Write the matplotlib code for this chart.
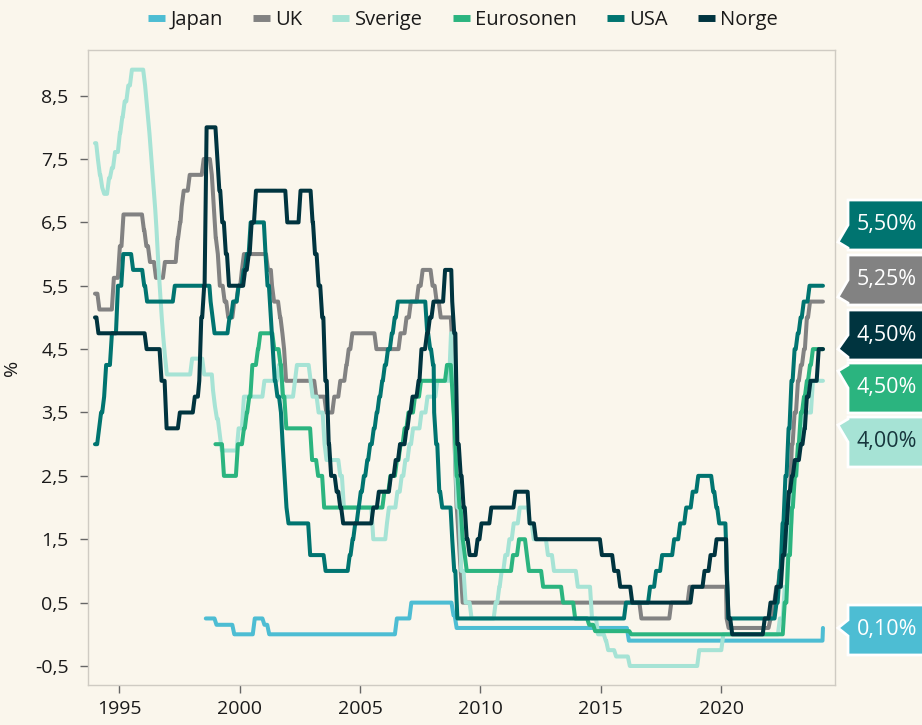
import matplotlib
matplotlib.use("Agg")
import matplotlib.pyplot as plt
from matplotlib.lines import Line2D
from matplotlib.patches import Polygon
from matplotlib.transforms import IdentityTransform

plt.rcParams['font.family'] = ['Open Sans', 'DejaVu Sans']

# --- data: (decimal year, policy rate %) change points -------------------
END = 2024.22

japan = [(1998.6, 0.25), (1998.96, 0.15), (1999.7, 0.0), (2000.55, 0.25),
         (2000.95, 0.15), (2001.15, 0.0), (2006.45, 0.25), (2007.05, 0.5),
         (2008.8, 0.3), (2008.93, 0.1), (2016.08, -0.1), (2024.2, 0.1)]

uk = [(1994.0, 5.375), (1994.1, 5.125), (1994.7, 5.625), (1994.95, 6.125),
      (1995.1, 6.625), (1995.95, 6.375), (1996.05, 6.125), (1996.2, 5.875),
      (1996.45, 5.625), (1996.82, 5.875), (1997.35, 6.25), (1997.45, 6.5),
      (1997.55, 6.75), (1997.6, 7.0), (1997.85, 7.25), (1998.43, 7.5),
      (1998.77, 7.25), (1998.85, 6.75), (1998.93, 6.25), (1999.02, 6.0),
      (1999.1, 5.5), (1999.3, 5.25), (1999.45, 5.0), (1999.7, 5.25),
      (1999.87, 5.5), (2000.03, 5.75), (2000.1, 6.0), (2001.1, 5.75),
      (2001.3, 5.5), (2001.35, 5.25), (2001.6, 5.0), (2001.7, 4.75),
      (2001.78, 4.5), (2001.85, 4.0), (2003.1, 3.75), (2003.52, 3.5),
      (2003.85, 3.75), (2004.1, 4.0), (2004.35, 4.25), (2004.45, 4.5),
      (2004.6, 4.75), (2005.6, 4.5), (2006.6, 4.75), (2006.85, 5.0),
      (2007.03, 5.25), (2007.35, 5.5), (2007.52, 5.75), (2007.93, 5.5),
      (2008.1, 5.25), (2008.27, 5.0), (2008.77, 4.5), (2008.85, 3.0),
      (2008.93, 2.0), (2009.02, 1.5), (2009.1, 1.0), (2009.18, 0.5),
      (2016.6, 0.25), (2017.84, 0.5), (2018.6, 0.75), (2020.2, 0.25),
      (2020.22, 0.1), (2021.96, 0.25), (2022.1, 0.5), (2022.2, 0.75),
      (2022.35, 1.0), (2022.46, 1.25), (2022.6, 1.75), (2022.72, 2.25),
      (2022.85, 3.0), (2022.96, 3.5), (2023.1, 4.0), (2023.22, 4.25),
      (2023.35, 4.5), (2023.47, 5.0), (2023.6, 5.25)]

sverige = [(1994.0, 7.75), (1994.05, 7.5), (1994.12, 7.25), (1994.22, 7.05),
           (1994.3, 6.95), (1994.5, 7.2), (1994.62, 7.36), (1994.75, 7.61),
           (1994.95, 7.91), (1995.05, 8.16), (1995.15, 8.41), (1995.3, 8.66),
           (1995.45, 8.91), (1996.0, 8.66), (1996.08, 8.41), (1996.14, 8.16),
           (1996.2, 7.91), (1996.26, 7.61), (1996.32, 7.31), (1996.38, 7.01),
           (1996.44, 6.71), (1996.5, 6.41), (1996.55, 6.06), (1996.6, 5.71),
           (1996.65, 5.36), (1996.71, 5.01), (1996.77, 4.71), (1996.83, 4.41),
           (1996.9, 4.10), (1997.95, 4.35), (1998.45, 4.10), (1998.85, 3.85),
           (1998.9, 3.60), (1998.98, 3.40), (1999.1, 3.15), (1999.18, 2.90),
           (1999.88, 3.25), (2000.1, 3.75), (2000.95, 4.0), (2001.55, 4.25),
           (2001.71, 3.75), (2002.22, 4.0), (2002.3, 4.25), (2002.87, 4.0),
           (2002.95, 3.75), (2003.2, 3.5), (2003.45, 3.0), (2003.53, 2.75),
           (2004.1, 2.5), (2004.25, 2.0), (2005.47, 1.5), (2006.05, 1.75),
           (2006.12, 2.0), (2006.47, 2.25), (2006.65, 2.5), (2006.8, 2.75),
           (2006.97, 3.0), (2007.12, 3.25), (2007.47, 3.5), (2007.72, 3.75),
           (2008.13, 4.0), (2008.7, 4.75), (2008.78, 4.25), (2008.82, 3.75),
           (2008.88, 2.75), (2008.96, 2.0), (2009.12, 1.0), (2009.3, 0.5),
           (2009.55, 0.25), (2010.55, 0.5), (2010.7, 0.75), (2010.8, 1.0),
           (2010.95, 1.25), (2011.12, 1.5), (2011.3, 1.75), (2011.55, 2.0),
           (2011.97, 1.75), (2012.13, 1.5), (2012.72, 1.25), (2012.97, 1.0),
           (2013.96, 0.75), (2014.55, 0.25), (2014.8, 0.0), (2015.12, -0.1),
           (2015.22, -0.25), (2015.55, -0.35), (2016.12, -0.5), (2019.0, -0.25),
           (2020.0, 0.0), (2022.35, 0.25), (2022.55, 0.75), (2022.72, 1.75),
           (2022.9, 2.5), (2023.12, 3.0), (2023.3, 3.5), (2023.72, 4.0)]

eurosonen = [(1999.0, 3.0), (1999.27, 2.5), (1999.85, 3.0), (2000.1, 3.25),
             (2000.22, 3.5), (2000.32, 3.75), (2000.45, 4.25), (2000.68, 4.5),
             (2000.78, 4.75), (2001.36, 4.5), (2001.62, 4.25), (2001.72, 3.75),
             (2001.86, 3.25), (2002.93, 2.75), (2003.18, 2.5), (2003.43, 2.0),
             (2005.93, 2.25), (2006.18, 2.5), (2006.45, 2.75), (2006.6, 3.0),
             (2006.77, 3.25), (2006.93, 3.5), (2007.2, 3.75), (2007.45, 4.0),
             (2008.53, 4.25), (2008.77, 3.75), (2008.85, 3.25), (2008.93, 2.5),
             (2009.05, 2.0), (2009.18, 1.5), (2009.27, 1.25), (2009.35, 1.0),
             (2011.27, 1.25), (2011.52, 1.5), (2011.85, 1.25), (2011.93, 1.0),
             (2012.52, 0.75), (2013.35, 0.5), (2013.85, 0.25), (2014.43, 0.15),
             (2014.68, 0.05), (2016.18, 0.0), (2022.55, 0.5), (2022.7, 1.25),
             (2022.85, 2.0), (2022.97, 2.5), (2023.1, 3.0), (2023.22, 3.5),
             (2023.35, 3.75), (2023.47, 4.0), (2023.6, 4.25), (2023.72, 4.5)]

usa = [(1994.0, 3.0), (1994.09, 3.25), (1994.17, 3.5), (1994.3, 3.75),
       (1994.38, 4.25), (1994.62, 4.75), (1994.87, 5.5), (1995.09, 6.0),
       (1995.5, 5.75), (1995.96, 5.5), (1996.08, 5.25), (1997.23, 5.5),
       (1998.75, 5.25), (1998.8, 5.0), (1998.88, 4.75), (1999.5, 5.0),
       (1999.65, 5.25), (1999.88, 5.5), (2000.09, 5.75), (2000.22, 6.0),
       (2000.38, 6.5), (2001.01, 6.0), (2001.08, 5.5), (2001.22, 5.0),
       (2001.3, 4.5), (2001.38, 4.0), (2001.49, 3.75), (2001.64, 3.5),
       (2001.72, 3.0), (2001.79, 2.5), (2001.87, 2.0), (2001.95, 1.75),
       (2002.85, 1.25), (2003.49, 1.0), (2004.49, 1.25), (2004.61, 1.5),
       (2004.72, 1.75), (2004.86, 2.0), (2004.95, 2.25), (2005.08, 2.5),
       (2005.22, 2.75), (2005.34, 3.0), (2005.49, 3.25), (2005.61, 3.5),
       (2005.72, 3.75), (2005.84, 4.0), (2005.95, 4.25), (2006.08, 4.5),
       (2006.24, 4.75), (2006.36, 5.0), (2006.49, 5.25), (2007.71, 4.75),
       (2007.83, 4.5), (2007.95, 4.25), (2008.06, 3.5), (2008.08, 3.0),
       (2008.21, 2.25), (2008.33, 2.0), (2008.76, 1.5), (2008.83, 1.0),
       (2008.96, 0.25), (2015.96, 0.5), (2016.96, 0.75), (2017.21, 1.0),
       (2017.46, 1.25), (2017.96, 1.5), (2018.21, 1.75), (2018.46, 2.0),
       (2018.73, 2.25), (2018.96, 2.5), (2019.58, 2.25), (2019.71, 2.0),
       (2019.83, 1.75), (2020.17, 1.25), (2020.21, 0.25), (2022.21, 0.5),
       (2022.34, 1.0), (2022.46, 1.75), (2022.58, 2.5), (2022.71, 3.25),
       (2022.83, 4.0), (2022.96, 4.5), (2023.09, 4.75), (2023.21, 5.0),
       (2023.34, 5.25), (2023.58, 5.5)]

norge = [(1994.0, 5.0), (1994.06, 4.75), (1996.06, 4.5), (1996.68, 4.0),
         (1996.89, 3.25), (1997.44, 3.5), (1998.06, 3.75), (1998.27, 4.0),
         (1998.33, 5.0), (1998.45, 5.5), (1998.55, 8.0), (1999.0, 7.5),
         (1999.08, 7.0), (1999.2, 6.5), (1999.35, 6.0), (1999.48, 5.5),
         (2000.15, 5.75), (2000.3, 6.0), (2000.42, 6.5), (2000.6, 7.0),
         (2001.9, 6.5), (2002.45, 7.0), (2002.95, 6.5), (2003.05, 6.0),
         (2003.2, 5.5), (2003.35, 5.0), (2003.48, 4.0), (2003.62, 3.0),
         (2003.72, 2.5), (2003.95, 2.25), (2004.1, 2.0), (2004.22, 1.75),
         (2005.47, 2.0), (2005.7, 2.25), (2006.2, 2.5), (2006.4, 2.75),
         (2006.58, 3.0), (2006.85, 3.25), (2006.97, 3.5), (2007.1, 3.75),
         (2007.35, 4.0), (2007.47, 4.5), (2007.7, 4.75), (2007.82, 5.0),
         (2007.97, 5.25), (2008.45, 5.75), (2008.79, 5.25), (2008.83, 4.75),
         (2008.96, 3.0), (2009.1, 2.5), (2009.22, 2.0), (2009.35, 1.5),
         (2009.47, 1.25), (2009.8, 1.5), (2009.96, 1.75), (2010.37, 2.0),
         (2011.37, 2.25), (2011.96, 1.75), (2012.22, 1.5), (2014.96, 1.25),
         (2015.47, 1.0), (2015.72, 0.75), (2016.22, 0.5), (2018.72, 0.75),
         (2019.22, 1.0), (2019.47, 1.25), (2019.72, 1.5), (2020.2, 1.0),
         (2020.22, 0.25), (2020.37, 0.0), (2021.72, 0.25), (2021.96, 0.5),
         (2022.22, 0.75), (2022.47, 1.25), (2022.62, 1.75), (2022.72, 2.25),
         (2022.85, 2.5), (2022.97, 2.75), (2023.22, 3.0), (2023.37, 3.25),
         (2023.47, 3.75), (2023.62, 4.0), (2023.96, 4.5)]

names = ['Japan', 'UK', 'Sverige', 'Eurosonen', 'USA', 'Norge']
colors = ['#4dbdd3', '#828282', '#a6e3d5', '#2bb47f', '#007470', '#00343f']
all_series = [japan, uk, sverige, eurosonen, usa, norge]

y_ticks = [-0.5, 0.5, 1.5, 2.5, 3.5, 4.5, 5.5, 6.5, 7.5, 8.5]
x_ticks = [1995, 2000, 2005, 2010, 2015, 2020]

# end-of-series callouts, top to bottom
callout_order = ['USA', 'UK', 'Norge', 'Eurosonen', 'Sverige', 'Japan']

BG = '#faf6ec'
W, H = 922, 725
RAMP = 1 / 12  # monthly sampling: a change takes one month to draw


def monthly_path(data):
    """Vertices for a step series drawn as a monthly line."""
    xs, ys = [data[0][0]], [data[0][1]]
    for k in range(1, len(data)):
        t, v = data[k]
        nxt = data[k + 1][0] if k + 1 < len(data) else END
        xs += [t, min(t + RAMP, nxt)]
        ys += [data[k - 1][1], v]
    xs.append(END)
    ys.append(data[-1][1])
    return xs, ys


fig = plt.figure(figsize=(W / 100, H / 100), dpi=100, facecolor=BG)
ax = fig.add_axes([88 / W, 1 - 685 / H, (835 - 88) / W, (685 - 50) / H])
ax.set_facecolor(BG)

for name, data, col in zip(names, all_series, colors):
    xs, ys = monthly_path(data)
    ax.plot(xs, ys, color=col, lw=2.9, solid_joinstyle='round',
            solid_capstyle='round', label=name)

ax.set_xlim(1993.71, 2024.72)
ax.set_ylim(-0.80, 9.22)
ax.set_yticks(y_ticks)
ax.set_yticklabels([f"{y:.1f}".replace('.', ',') for y in y_ticks])
ax.set_xticks(x_ticks)
ax.set_xticklabels([str(x) for x in x_ticks])
ax.tick_params(axis='both', direction='out', length=6, width=1,
               color='#666666', labelsize=14, labelcolor='#1a1a1a')
ax.tick_params(axis='y', pad=8)
ax.tick_params(axis='x', pad=5)
for s in ax.spines.values():
    s.set_color('#cfcbc3')
    s.set_linewidth(1)
ax.set_ylabel('%', fontsize=14, color='#1a1a1a', labelpad=10)

handles = [Line2D([], [], color=c, lw=5, solid_capstyle='butt') for c in colors]
fig.legend(handles, names, loc='center', bbox_to_anchor=(0.502, 1 - 20 / H),
           ncol=6, frameon=False, fontsize=14.5, handlelength=0.85,
           handletextpad=0.25, columnspacing=1.5, labelcolor='#1a1a1a')

# callout boxes on the right
box_tops = [200, 255, 310, 363, 417, 605]
box_h = 50
x0, x1 = 848, W + 5
for name, top in zip(callout_order, box_tops):
    i = names.index(name)
    last = all_series[i][-1][1]
    col = colors[i]
    ty = ax.transData.transform((END, last))[1]  # display y (from bottom)
    btm_d, top_d = H - (top + box_h), H - top
    tip_y = min(max(ty, btm_d + 8), top_d - 8)
    cy = (btm_d + top_d) / 2
    b1 = min(max(tip_y - 8, btm_d + 2), cy)
    b2 = max(min(tip_y + 8, top_d - 2), cy)
    poly = [(x0, btm_d), (x1, btm_d), (x1, top_d), (x0, top_d),
            (x0, b2), (838, tip_y), (x0, b1)]
    fig.add_artist(Polygon(poly, closed=True, facecolor=col, edgecolor='white',
                           lw=2, transform=IdentityTransform(), zorder=5))
    tcol = '#17363d' if name == 'Sverige' else 'white'
    fig.text((x0 + W) / 2 / W + 0.002, cy / H,
             f"{last:.2f}%".replace('.', ','), ha='center', va='center',
             fontsize=15.5, color=tcol, zorder=6)

fig.savefig('out.png', dpi=100, facecolor=BG)
